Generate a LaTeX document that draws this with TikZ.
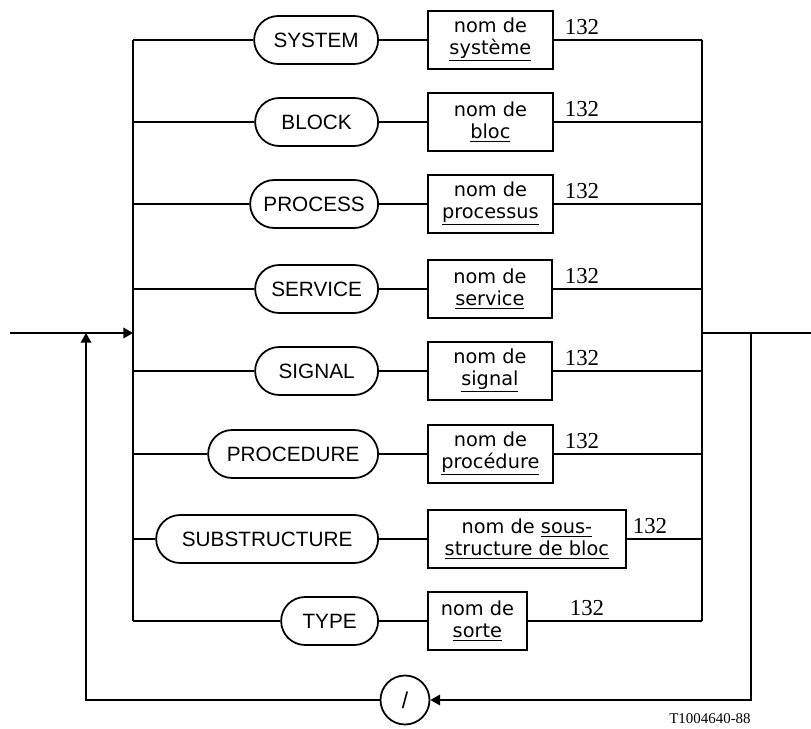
\documentclass[tikz,border=0pt]{standalone}
\usepackage{fontspec}
\setmainfont{Liberation Serif}
\setsansfont{Liberation Sans}
\newfontfamily\namefont{DejaVu Sans}
\usetikzlibrary{shapes.misc,arrows.meta}

\begin{document}
\begin{tikzpicture}[
    x=0.02cm, y=-0.02cm,
    line width=1pt,
    every node/.style={inner sep=0pt},
    keyword/.style={draw, rounded rectangle, minimum height=0.96cm,
        anchor=east, font=\sffamily\fontsize{11.8}{13}\selectfont},
    namebox/.style={draw, rectangle, minimum height=1.16cm, align=center,
        anchor=west, font=\namefont\fontsize{11}{12.2}\selectfont},
    refnum/.style={anchor=south, font=\fontsize{13}{14}\selectfont},
    tip/.style={-{Triangle[length=5.5pt,width=6pt]}},
]
\useasboundingbox (0,0) rectangle (811,729);

% ----------------------------------------------------------------------
% Alternatives (8 rows, between the two buses at x=133 and x=702)
%   row: y / keyword / pill width / name / box width / x of "132"
% ----------------------------------------------------------------------
\foreach \i/\y/\kwtext/\kwd/\nmtext/\nwd/\lx in {
    1/40/SYSTEM/2.48/{nom de\\\underline{système}}/2.5/582,
    2/122/BLOCK/2.46/{nom de\\\underline{bloc}}/2.5/582,
    3/204/PROCESS/2.56/{nom de\\\underline{processus}}/2.5/582,
    4/289/SERVICE/2.46/{nom de\\\underline{service}}/2.48/582,
    5/371/SIGNAL/2.46/{nom de\\\underline{signal}}/2.48/582,
    6/454/PROCEDURE/3.4/{nom de\\\underline{procédure}}/2.5/582,
    7/539/SUBSTRUCTURE/4.44/{nom de \underline{sous-}\\\underline{structure de bloc}}/3.96/650,
    8/621/TYPE/1.94/{nom de\\\underline{sorte}}/1.98/587
} {
    \coordinate (lb\i) at (133,\y);
    \coordinate (rb\i) at (702,\y);
    \node[keyword, minimum width=\kwd cm] (kw\i) at (379,\y) {\kwtext};
    \node[namebox, minimum width=\nwd cm] (nm\i) at (427,\y) {\nmtext};
    \node[refnum] (ref\i) at (\lx,\y-4) {132};
    \draw (lb\i) -- (kw\i) -- (nm\i) -- (rb\i);
}

% Buses
\draw (lb1) -- (lb8);
\draw (rb1) -- (rb8);

% ----------------------------------------------------------------------
% Entry, exit and the "/" repeat loop
% ----------------------------------------------------------------------
\coordinate (entry) at (10,333);
\coordinate (merge) at (133,333);
\coordinate (split) at (702,333);
\coordinate (exit) at (811,333);
\coordinate (loopout) at (751,333);
\coordinate (loopdown) at (751,700);
\coordinate (backdown) at (86,700);
\coordinate (backup) at (86,333);

\node[draw, circle, minimum size=0.98cm,
      font=\sffamily\fontsize{13}{14}\selectfont] (sep) at (405,700) {/};

\draw[tip] (entry) -- (merge);
\draw (split) -- (exit);
\draw[tip] (loopout) -- (loopdown) -- (sep);
\draw[tip] (sep) -- (backdown) -- (backup);

% Figure tag
\node[font=\fontsize{8.5}{9}\selectfont] (tag) at (710,719) {T1004640-88};

\end{tikzpicture}
\end{document}
